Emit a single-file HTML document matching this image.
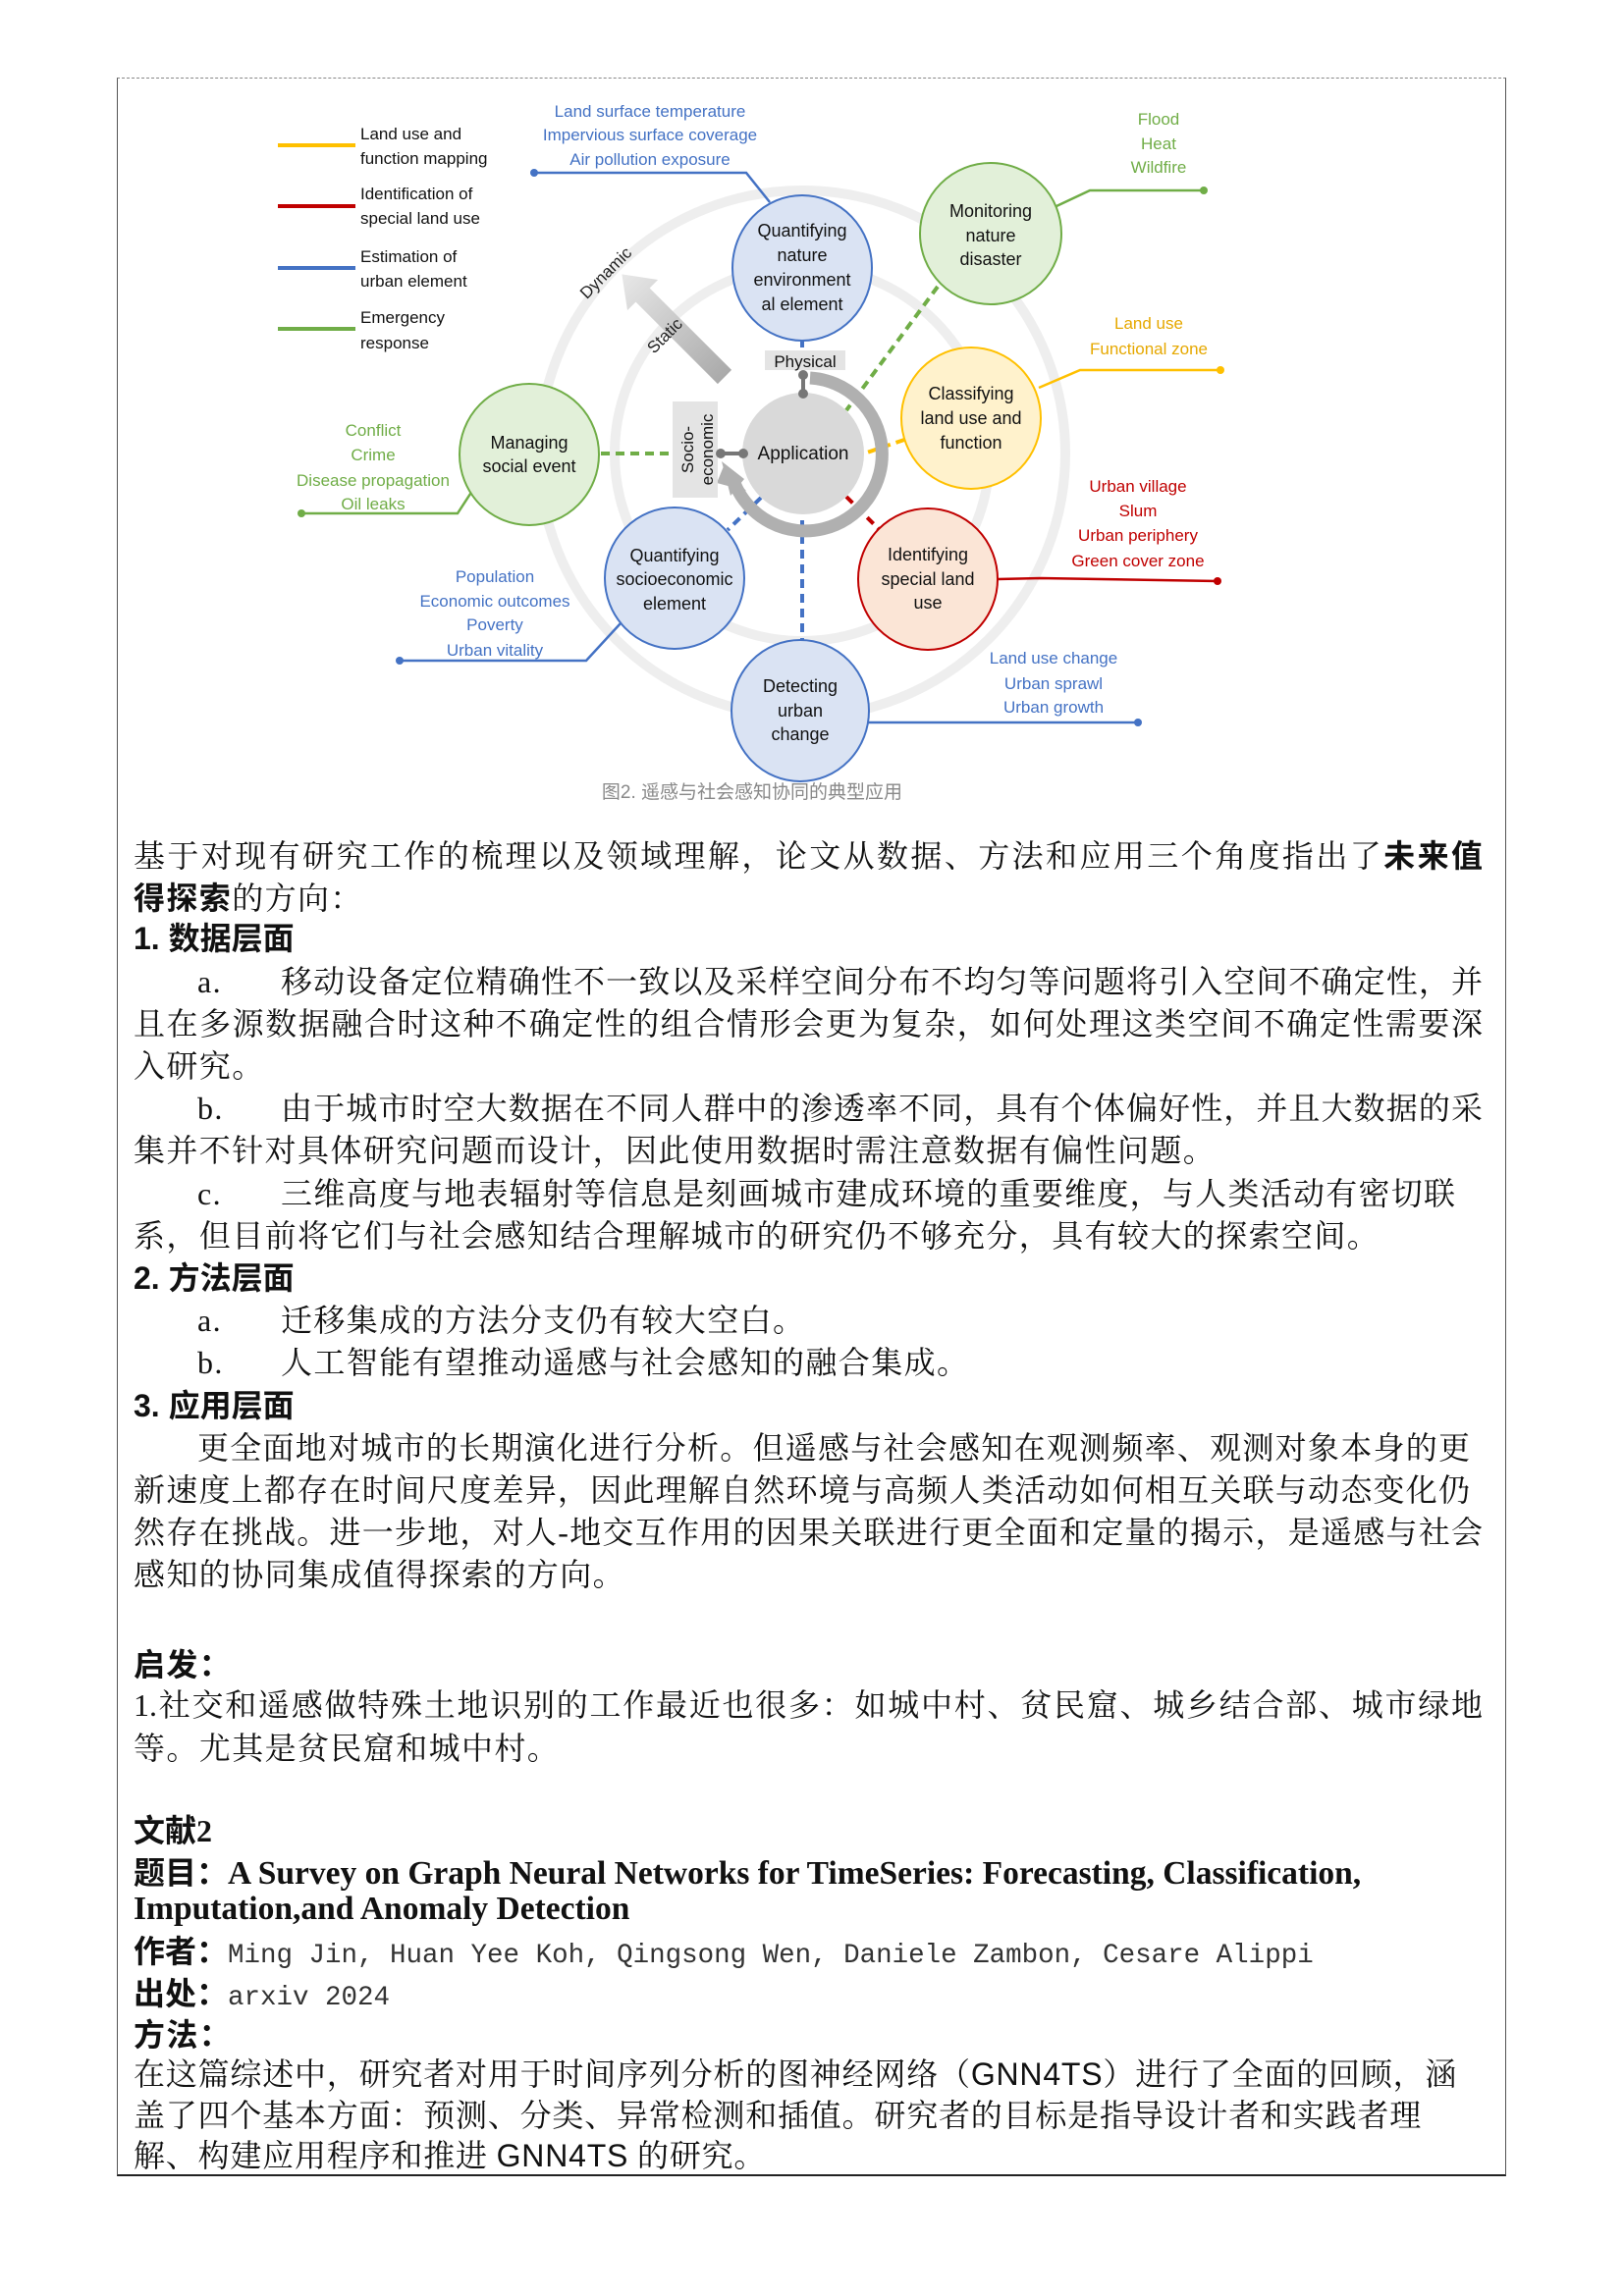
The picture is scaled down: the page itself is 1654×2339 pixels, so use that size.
<!DOCTYPE html>
<html><head><meta charset="utf-8">
<style>
html,body{margin:0;padding:0;background:#fff;}
body{width:1654px;height:2339px;position:relative;overflow:hidden;}
.box{position:absolute;left:119px;top:79px;width:1415px;height:2138px;border-left:1.5px solid #555;border-right:1.5px solid #555;border-bottom:2px solid #222;border-top:1px dashed #888;box-sizing:border-box;}
.l{position:absolute;height:43px;line-height:43px;font-family:"Liberation Serif","Noto Serif CJK SC",serif;font-size:32px;color:#111;white-space:nowrap;letter-spacing:1.4px;}
.j{letter-spacing:0;text-align:justify;text-align-last:justify;}
.h{font-family:"Liberation Sans","Noto Sans CJK SC",sans-serif;font-weight:bold;letter-spacing:0;}
b{font-family:"Noto Sans CJK SC",sans-serif;font-weight:bold;}
svg text{font-family:"Liberation Sans",sans-serif;}
</style></head><body>
<div class="box"></div>
<svg width="1654" height="2339" style="position:absolute;left:0;top:0" xmlns="http://www.w3.org/2000/svg">
<circle cx="817" cy="462" r="268" fill="none" stroke="#eeeeee" stroke-width="10"/>
<circle cx="817" cy="462" r="191" fill="none" stroke="#eeeeee" stroke-width="10"/>
<g stroke-width="4">
<line x1="283" y1="148" x2="362" y2="148" stroke="#ffc000"/>
<line x1="283" y1="210" x2="362" y2="210" stroke="#c00000"/>
<line x1="283" y1="273" x2="362" y2="273" stroke="#4472c4"/>
<line x1="283" y1="335" x2="362" y2="335" stroke="#70ad47"/>
</g>
<g font-size="17" fill="#111">
<text x="367" y="142">Land use and</text><text x="367" y="167">function mapping</text>
<text x="367" y="203">Identification of</text><text x="367" y="228">special land use</text>
<text x="367" y="267">Estimation of</text><text x="367" y="292">urban element</text>
<text x="367" y="329">Emergency</text><text x="367" y="355">response</text>
</g>
<g font-size="17" text-anchor="middle">
<g fill="#4472c4"><text x="662" y="119">Land surface temperature</text><text x="662" y="143">Impervious surface coverage</text><text x="662" y="168">Air pollution exposure</text></g>
<g fill="#70ad47"><text x="1180" y="127">Flood</text><text x="1180" y="152">Heat</text><text x="1180" y="176">Wildfire</text></g>
<g fill="#e6a800"><text x="1170" y="335">Land use</text><text x="1170" y="361">Functional zone</text></g>
<g fill="#c00000"><text x="1159" y="501">Urban village</text><text x="1159" y="526">Slum</text><text x="1159" y="551">Urban periphery</text><text x="1159" y="577">Green cover zone</text></g>
<g fill="#4472c4"><text x="1073" y="676">Land use change</text><text x="1073" y="702">Urban sprawl</text><text x="1073" y="726">Urban growth</text></g>
<g fill="#4472c4"><text x="504" y="593">Population</text><text x="504" y="618">Economic outcomes</text><text x="504" y="642">Poverty</text><text x="504" y="668">Urban vitality</text></g>
<g fill="#70ad47"><text x="380" y="444">Conflict</text><text x="380" y="469">Crime</text><text x="380" y="495">Disease propagation</text><text x="380" y="519">Oil leaks</text></g>
</g>
<g fill="none" stroke-width="2.5">
<polyline points="544,176 760,176 784,206" stroke="#4472c4"/>
<polyline points="1076,210 1110,194 1226,194" stroke="#70ad47"/>
<polyline points="1058,395 1100,377 1243,377" stroke="#ffc000"/>
<polyline points="1016,590 1060,589 1240,592" stroke="#c00000"/>
<polyline points="879,736 1159,736" stroke="#4472c4"/>
<polyline points="407,673 597,673 632,635" stroke="#4472c4"/>
<polyline points="307,523 466,523 481,500" stroke="#70ad47"/>
</g>
<circle cx="544" cy="176" r="4" fill="#4472c4"/>
<circle cx="1226" cy="194" r="4" fill="#70ad47"/>
<circle cx="1243" cy="377" r="4" fill="#ffc000"/>
<circle cx="1240" cy="592" r="4" fill="#c00000"/>
<circle cx="1159" cy="736" r="4" fill="#4472c4"/>
<circle cx="407" cy="673" r="4" fill="#4472c4"/>
<circle cx="307" cy="523" r="4" fill="#70ad47"/>
<g stroke-width="4" stroke-dasharray="9,6" fill="none">
<line x1="817" y1="345" x2="817" y2="357" stroke="#4472c4"/>
<line x1="955" y1="292" x2="862" y2="418" stroke="#70ad47"/>
<line x1="921" y1="448" x2="880" y2="462" stroke="#ffc000"/>
<line x1="862" y1="506" x2="896" y2="540" stroke="#c00000"/>
<line x1="817" y1="530" x2="817" y2="653" stroke="#4472c4"/>
<line x1="775" y1="507" x2="741" y2="540" stroke="#4472c4"/>
<line x1="612" y1="462" x2="690" y2="462" stroke="#70ad47"/>
</g>
<g transform="translate(738,384) rotate(-135)">
<defs><linearGradient id="ga" x1="0" y1="0" x2="1" y2="0"><stop offset="0" stop-color="#aaa"/><stop offset="1" stop-color="#e8e8e8"/></linearGradient></defs>
<polygon points="0,-10 118,-10 118,-22 148,0 118,22 118,10 0,10" fill="url(#ga)"/>
</g>
<text x="621" y="282" font-size="17" transform="rotate(-45 621 282)" text-anchor="middle" fill="#222">Dynamic</text>
<text x="681" y="346" font-size="17" transform="rotate(-45 681 346)" text-anchor="middle" fill="#222">Static</text>
<circle cx="818" cy="462" r="62" fill="#d9d9d9"/>
<path d="M 825 385 A 78 78 0 1 1 748 492" fill="none" stroke="#b0b0b0" stroke-width="13"/>
<polygon points="735,470 744,505 758,488" fill="#b0b0b0"/>
<polygon points="737,475 730,492 760,500" fill="#b0b0b0"/>
<rect x="779" y="357" width="82" height="20" fill="#e4e4e4"/>
<text x="820" y="374" font-size="17" text-anchor="middle" fill="#111">Physical</text>
<rect x="685" y="409" width="46" height="98" fill="#e4e4e4"/>
<text transform="translate(706,458) rotate(-90)" font-size="17" text-anchor="middle" fill="#111">Socio-</text>
<text transform="translate(726,458) rotate(-90)" font-size="17" text-anchor="middle" fill="#111">economic</text>
<g stroke="#777" stroke-width="4"><line x1="818" y1="382" x2="818" y2="401"/><line x1="734" y1="462" x2="757" y2="462"/></g>
<g fill="#777"><circle cx="818" cy="382" r="5"/><circle cx="818" cy="401" r="5"/><circle cx="734" cy="462" r="5"/><circle cx="757" cy="462" r="5"/></g>
<text x="818" y="468" font-size="19" text-anchor="middle" fill="#111">Application</text>
<g stroke-width="2">
<ellipse cx="817" cy="273" rx="71" ry="74" fill="#dae3f3" stroke="#4472c4"/>
<ellipse cx="1009" cy="238" rx="72" ry="72" fill="#e2f0d9" stroke="#70ad47"/>
<ellipse cx="989" cy="426" rx="71" ry="72" fill="#fff2cc" stroke="#ffc000"/>
<ellipse cx="945" cy="590" rx="71" ry="72" fill="#fbe5d6" stroke="#c00000"/>
<ellipse cx="815" cy="724" rx="70" ry="72" fill="#dae3f3" stroke="#4472c4"/>
<ellipse cx="687" cy="589" rx="71" ry="72" fill="#dae3f3" stroke="#4472c4"/>
<ellipse cx="539" cy="463" rx="71" ry="72" fill="#e2f0d9" stroke="#70ad47"/>
</g>
<g font-size="18" text-anchor="middle" fill="#111">
<text x="817" y="241">Quantifying</text><text x="817" y="266">nature</text><text x="817" y="291">environment</text><text x="817" y="316">al element</text>
<text x="1009" y="221">Monitoring</text><text x="1009" y="246">nature</text><text x="1009" y="270">disaster</text>
<text x="989" y="407">Classifying</text><text x="989" y="432">land use and</text><text x="989" y="457">function</text>
<text x="945" y="571">Identifying</text><text x="945" y="596">special land</text><text x="945" y="620">use</text>
<text x="815" y="705">Detecting</text><text x="815" y="730">urban</text><text x="815" y="754">change</text>
<text x="687" y="572">Quantifying</text><text x="687" y="596">socioeconomic</text><text x="687" y="621">element</text>
<text x="539" y="457">Managing</text><text x="539" y="481">social event</text>
</g>
<text x="766" y="813" font-size="19" text-anchor="middle" fill="#888" style="font-family:'Liberation Sans','Noto Sans CJK SC',sans-serif">图2. 遥感与社会感知协同的典型应用</text>
</svg>

<div class="l j" style="top:849px;left:136px;width:1374px">基于对现有研究工作的梳理以及领域理解，论文从数据、方法和应用三个角度指出了<b>未来值</b></div>
<div class="l" style="top:892px;left:136px"><b>得探索</b>的方向：</div>
<div class="l h" style="top:935px;left:136px">1. 数据层面</div>
<div class="l" style="top:979px;left:201px">a.</div>
<div class="l j" style="top:979px;left:286px;width:1224px">移动设备定位精确性不一致以及采样空间分布不均匀等问题将引入空间不确定性，并</div>
<div class="l j" style="top:1022px;left:136px;width:1374px">且在多源数据融合时这种不确定性的组合情形会更为复杂，如何处理这类空间不确定性需要深</div>
<div class="l" style="top:1065px;left:136px">入研究。</div>
<div class="l" style="top:1108px;left:201px">b.</div>
<div class="l j" style="top:1108px;left:286px;width:1224px">由于城市时空大数据在不同人群中的渗透率不同，具有个体偏好性，并且大数据的采</div>
<div class="l" style="top:1151px;left:136px">集并不针对具体研究问题而设计，因此使用数据时需注意数据有偏性问题。</div>
<div class="l" style="top:1195px;left:201px">c.</div>
<div class="l j" style="top:1195px;left:286px;width:1196px">三维高度与地表辐射等信息是刻画城市建成环境的重要维度，与人类活动有密切联</div>
<div class="l" style="top:1238px;left:136px">系，但目前将它们与社会感知结合理解城市的研究仍不够充分，具有较大的探索空间。</div>
<div class="l h" style="top:1281px;left:136px">2. 方法层面</div>
<div class="l" style="top:1324px;left:201px">a.</div>
<div class="l" style="top:1324px;left:286px">迁移集成的方法分支仍有较大空白。</div>
<div class="l" style="top:1367px;left:201px">b.</div>
<div class="l" style="top:1367px;left:286px">人工智能有望推动遥感与社会感知的融合集成。</div>
<div class="l h" style="top:1411px;left:136px">3. 应用层面</div>
<div class="l j" style="top:1454px;left:201px;width:1296px">更全面地对城市的长期演化进行分析。但遥感与社会感知在观测频率、观测对象本身的更</div>
<div class="l j" style="top:1497px;left:136px;width:1361px">新速度上都存在时间尺度差异，因此理解自然环境与高频人类活动如何相互关联与动态变化仍</div>
<div class="l j" style="top:1540px;left:136px;width:1374px">然存在挑战。进一步地，对人-地交互作用的因果关联进行更全面和定量的揭示，是遥感与社会</div>
<div class="l" style="top:1583px;left:136px">感知的协同集成值得探索的方向。</div>
<div class="l" style="top:1673px;left:136px"><b>启发：</b></div>
<div class="l j" style="top:1716px;left:136px;width:1374px">1.社交和遥感做特殊土地识别的工作最近也很多：如城中村、贫民窟、城乡结合部、城市绿地</div>
<div class="l" style="top:1760px;left:136px">等。尤其是贫民窟和城中村。</div>
<div class="l" style="top:1842px;left:136px;letter-spacing:0"><b>文献</b><span style="font-weight:bold">2</span></div>
<div class="l" style="top:1885px;left:136px;letter-spacing:0"><b>题目：</b><span style="font-weight:bold;font-size:33.5px">A Survey on Graph Neural Networks for TimeSeries: Forecasting, Classification,</span></div>
<div class="l" style="top:1923px;left:136px;letter-spacing:0"><span style="font-weight:bold;font-size:33.5px">Imputation,and Anomaly Detection</span></div>
<div class="l" style="top:1965px;left:136px;letter-spacing:0"><b>作者：</b><span style="font-family:'Liberation Mono',monospace;font-size:27.5px;color:#333">Ming Jin, Huan Yee Koh, Qingsong Wen, Daniele Zambon, Cesare Alippi</span></div>
<div class="l" style="top:2008px;left:136px;letter-spacing:0"><b>出处：</b><span style="font-family:'Liberation Mono',monospace;font-size:27.5px;color:#333">arxiv 2024</span></div>
<div class="l" style="top:2050px;left:136px"><b>方法：</b></div>
<div class="l" style="top:2092px;left:136px;letter-spacing:0.8px">在这篇综述中，研究者对用于时间序列分析的图神经网络（<span style="font-family:'Liberation Sans',sans-serif">GNN4TS</span>）进行了全面的回顾，涵</div>
<div class="l" style="top:2134px;left:136px;letter-spacing:0.8px">盖了四个基本方面：预测、分类、异常检测和插值。研究者的目标是指导设计者和实践者理</div>
<div class="l" style="top:2175px;left:136px;letter-spacing:0.8px">解、构建应用程序和推进 <span style="font-family:'Liberation Sans',sans-serif">GNN4TS</span> 的研究。</div>
</body></html>
